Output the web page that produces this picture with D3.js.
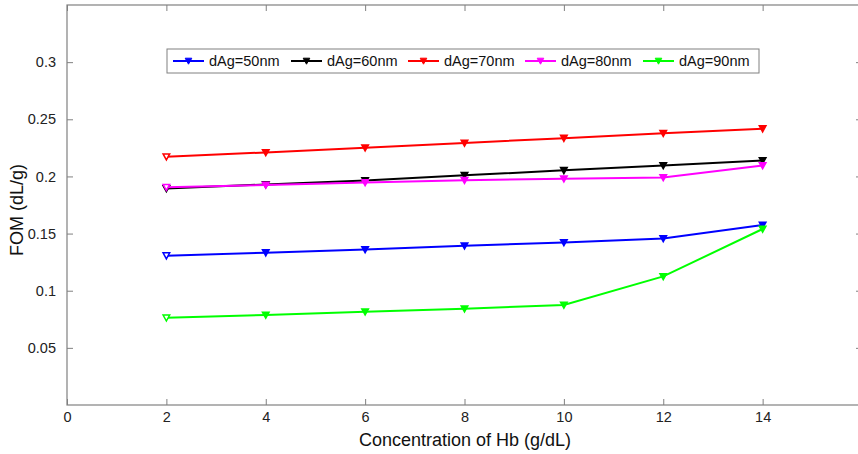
<!DOCTYPE html>
<html>
<head>
<meta charset="utf-8">
<script src="https://cdn.jsdelivr.net/npm/d3@7"></script>
<style>
  body { margin: 0; background: #fff; }
  text { font-family: "Liberation Sans", Arial, sans-serif; }
</style>
</head>
<body>
<div id="chart"></div>
<script>
// data
var conc = [2, 4, 6, 8, 10, 12, 14];
var seriesNames = ["dAg=50nm", "dAg=60nm", "dAg=70nm", "dAg=80nm", "dAg=90nm"];
var seriesColors = ["#0000ff", "#000000", "#ff0000", "#ff00ff", "#00ff00"];
var fom50 = [0.1307, 0.1333, 0.1360, 0.1393, 0.1422, 0.1456, 0.1575];
var fom60 = [0.1895, 0.1930, 0.1965, 0.2010, 0.2053, 0.2096, 0.2140];
var fom70 = [0.2172, 0.2210, 0.2250, 0.2293, 0.2335, 0.2377, 0.2418];
var fom80 = [0.1905, 0.1925, 0.1947, 0.1967, 0.1980, 0.1990, 0.2096];
var fom90 = [0.0763, 0.0788, 0.0815, 0.0842, 0.0875, 0.1125, 0.1540];
var xTicks = [0, 2, 4, 6, 8, 10, 12, 14];
var yTicks = [0.05, 0.1, 0.15, 0.2, 0.25, 0.3];

var allSeries = [fom50, fom60, fom70, fom80, fom90];

// set the dimensions and margins of the graph
var margin = {top: 5, right: -4, bottom: 49, left: 67},
    width = 858 - margin.left - margin.right,
    height = 454 - margin.top - margin.bottom;

var x = d3.scaleLinear().domain([0, 16]).range([0, width]);
var y = d3.scaleLinear().domain([0, 0.35]).range([height, 0]);

var svg = d3.select("#chart").append("svg")
    .attr("width", 858)
    .attr("height", 454)
  .append("g")
    .attr("transform", "translate(" + margin.left + "," + margin.top + ")");

var axisColor = "#808080";

// box
svg.append("rect")
    .attr("width", width).attr("height", height)
    .attr("fill", "none").attr("stroke", axisColor).attr("stroke-width", 1.2);

// bottom axis (ticks inside)
var xAxis = svg.append("g")
    .attr("transform", "translate(0," + height + ")")
    .call(d3.axisBottom(x).tickValues(xTicks).tickSize(-6).tickPadding(7).tickFormat(d3.format("d")));
xAxis.select(".domain").remove();
xAxis.selectAll("line").attr("stroke", axisColor);
xAxis.selectAll("text").attr("font-size", 14.5).attr("fill", "#222");

// top mirror ticks
var xTop = svg.append("g")
    .call(d3.axisTop(x).tickValues(xTicks).tickSize(-6).tickFormat(""));
xTop.select(".domain").remove();
xTop.selectAll("line").attr("stroke", axisColor);

// left axis
var yAxis = svg.append("g")
    .call(d3.axisLeft(y).tickValues(yTicks).tickSize(-6).tickPadding(11).tickFormat(d3.format("")));
yAxis.select(".domain").remove();
yAxis.selectAll("line").attr("stroke", axisColor);
yAxis.selectAll("text").attr("font-size", 14.5).attr("fill", "#222");

// right mirror ticks
var yRight = svg.append("g")
    .attr("transform", "translate(" + width + ",0)")
    .call(d3.axisRight(y).tickValues(yTicks).tickSize(-6).tickFormat(""));
yRight.select(".domain").remove();
yRight.selectAll("line").attr("stroke", axisColor);

// axis labels
svg.append("text")
    .attr("x", 465 - margin.left).attr("y", 446 - margin.top)
    .attr("text-anchor", "middle").attr("font-size", 18).attr("fill", "#111")
    .text("Concentration of Hb (g/dL)");

svg.append("text")
    .attr("transform", "translate(" + (23 - margin.left) + "," + (210 - margin.top) + ") rotate(-90)")
    .attr("text-anchor", "middle").attr("font-size", 18).attr("fill", "#111")
    .text("FOM (dL/g)");

var line = d3.line()
    .x(function(d, i) { return x(conc[i]); })
    .y(function(d) { return y(d); });

var tri = "M-3.3,-2.8L3.3,-2.8L0,3.2Z";

allSeries.forEach(function(vals, k) {
  svg.append("path")
      .datum(vals)
      .attr("d", line)
      .attr("fill", "none")
      .attr("stroke", seriesColors[k])
      .attr("stroke-width", 2);
  svg.selectAll(".m" + k)
      .data(vals)
    .enter().append("path")
      .attr("class", "m" + k)
      .attr("d", tri)
      .attr("transform", function(d, i) { return "translate(" + x(conc[i]) + "," + y(d) + ")"; })
      .attr("fill", function(d, i) { return i === 0 ? "#fff" : seriesColors[k]; })
      .attr("stroke", seriesColors[k])
      .attr("stroke-width", 1.5);
});

// legend
var lg = svg.append("g").attr("transform", "translate(" + (167 - margin.left) + "," + (49 - margin.top) + ")");
lg.append("rect")
    .attr("width", 592).attr("height", 24)
    .attr("fill", "#fff").attr("stroke", axisColor).attr("stroke-width", 1);
var legendX = [6, 124, 241, 358, 476];
seriesNames.forEach(function(name, k) {
  var g = lg.append("g").attr("transform", "translate(" + legendX[k] + ",12)");
  g.append("line").attr("x1", 0).attr("x2", 31).attr("y1", 0).attr("y2", 0)
      .attr("stroke", seriesColors[k]).attr("stroke-width", 2);
  g.append("path").attr("d", tri).attr("transform", "translate(15.5,0)")
      .attr("fill", seriesColors[k]).attr("stroke", seriesColors[k]).attr("stroke-width", 1);
  g.append("text").attr("x", 36).attr("y", 5).attr("font-size", 14.5).attr("fill", "#111").text(name);
});
</script>
</body>
</html>
